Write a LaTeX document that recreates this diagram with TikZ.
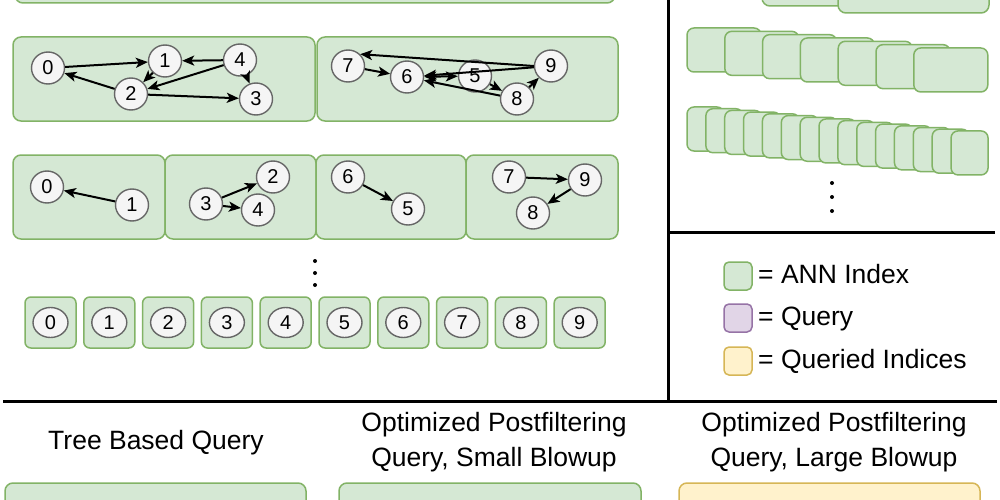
\documentclass[tikz,border=0pt]{standalone}
\usepackage{fontspec}
\setmainfont{Liberation Sans}
\usetikzlibrary{arrows.meta,shapes.geometric}
\definecolor{gfill}{HTML}{D5E8D4}
\definecolor{gline}{HTML}{82B366}
\definecolor{pfill}{HTML}{E1D5E7}
\definecolor{pline}{HTML}{9673A6}
\definecolor{yfill}{HTML}{FFF2CC}
\definecolor{yline}{HTML}{D6B656}
\definecolor{cfill}{HTML}{F5F5F5}
\definecolor{cline}{HTML}{666666}
\begin{document}
\begin{tikzpicture}[x=1pt,y=-1pt,
  gbox/.style={draw=gline, fill=gfill, line width=1.5pt, rounded corners=8pt, anchor=north west, inner sep=0pt, outer sep=0pt},
  pbox/.style={gbox, draw=pline, fill=pfill},
  ybox/.style={gbox, draw=yline, fill=yfill},
  vnode/.style={ellipse, draw=cline, fill=cfill, line width=1.4pt, minimum width=33pt, minimum height=32pt, inner sep=0pt, font=\fontsize{20}{20}\selectfont},
  snode/.style={vnode, minimum width=35pt, minimum height=30pt},
  edge/.style={line width=2pt, -{Stealth[length=12pt,width=10pt,inset=3pt]}},
  bedge/.style={line width=2pt, {Stealth[length=12pt,width=10pt,inset=3pt]}-{Stealth[length=12pt,width=10pt,inset=3pt]}},
  sepline/.style={line width=3pt, black},
  lbl/.style={font=\fontsize{26.5}{35}\selectfont, align=center, inner sep=0pt},
  dotm/.style={circle, fill=black, inner sep=0pt, minimum size=4pt}
]
\useasboundingbox (0,0) rectangle (1000,500);
\clip (0,0) rectangle (1000,500);
\fill[white] (0,0) rectangle (1000,500);

% ---- top strip (cut off) ----
\node[gbox, minimum width=600, minimum height=70] (topstrip) at (15,-67) {};

% ---- row 1 ----
\node[gbox, minimum width=302, minimum height=84] (boxA) at (13,37) {};
\node[gbox, minimum width=301, minimum height=84] (boxB) at (317,37) {};
\node[vnode] (a0) at (48,68) {0};
\node[vnode] (a1) at (165,61) {1};
\node[vnode] (a2) at (131,94) {2};
\node[vnode] (a4) at (240,60) {4};
\node[vnode] (a3) at (256,99) {3};
\node[vnode] (b7) at (348,66) {7};
\node[vnode] (b6) at (407,77) {6};
\node[vnode] (b5) at (475,76) {5};
\node[vnode] (b9) at (551,66) {9};
\node[vnode] (b8) at (517,99) {8};
\draw[edge] (a0) -- (a1);
\draw[edge] (a2) -- (a0);
\draw[edge] (a1) -- (a2);
\draw[edge] (a4) -- (a1);
\draw[edge] (a4) -- (a3);
\draw[edge] (a4) -- (a2);
\draw[edge] (a2) -- (a3);
\draw[edge] (b9.west) -- (b7.north east);
\draw[edge] (b7) -- (b6);
\draw[edge] (b9) -- (b6);
\draw[bedge] (b6) -- (b5);
\draw[edge] (b5) -- (b8);
\draw[edge] (b8) -- (b6);
\draw[edge] (b8) -- (b9);

% ---- row 2 ----
\node[gbox, minimum width=152, minimum height=84] (c1) at (13,155) {};
\node[gbox, minimum width=151, minimum height=84] (c2) at (165,155) {};
\node[gbox, minimum width=150, minimum height=84] (c3) at (316,155) {};
\node[gbox, minimum width=152, minimum height=84] (c4) at (466,155) {};
\node[vnode] (d0) at (47,187) {0};
\node[vnode] (d1) at (132,205) {1};
\node[vnode] (d3) at (206,204) {3};
\node[vnode] (d2) at (273,177) {2};
\node[vnode] (d4) at (258,210) {4};
\node[vnode] (d6) at (348,177) {6};
\node[vnode] (d5) at (408,209) {5};
\node[vnode] (d7) at (509,177) {7};
\node[vnode] (d9) at (585,180) {9};
\node[vnode] (d8) at (533,213) {8};
\draw[edge] (d1) -- (d0);
\draw[edge] (d3) -- (d2);
\draw[edge] (d3) -- (d4);
\draw[edge] (d6) -- (d5);
\draw[edge] (d7) -- (d9);
\draw[edge] (d9) -- (d8);

% ---- dots ----
\node[dotm] (ldot1) at (315,261) {};
\node[dotm] (ldot2) at (315,273) {};
\node[dotm] (ldot3) at (315,285) {};

% ---- row 3 ----
\foreach \i in {0,...,9} {
  \node[gbox, rounded corners=6pt, minimum width=51, minimum height=51] (e\i) at ({25+58.8*\i},297) {};
  \node[snode] (f\i) at (e\i.center) {\i};
}

% ---- separators ----
\draw[sepline] (668,0) -- (668,401);
\draw[sepline] (668,232) -- (995,232);
\draw[sepline] (3,401) -- (997,401);

% ---- right panel ----
\node[gbox, minimum width=150, minimum height=50] (tr1) at (762,-44) {};
\node[gbox, minimum width=151, minimum height=50] (tr2) at (838,-37) {};
\foreach \i in {0,...,6} {
  \node[gbox, rounded corners=7pt, minimum width=74, minimum height=44] (m\i) at ({687+37.8*\i},{28+3.33*\i}) {};
}
\foreach \i in {0,...,14} {
  \node[gbox, rounded corners=7pt, minimum width=37, minimum height=44] (n\i) at ({687+18.86*\i},{107+1.71*\i}) {};
}
\node[dotm] (rdot1) at (832,183) {};
\node[dotm] (rdot2) at (832,197) {};
\node[dotm] (rdot3) at (832,211) {};

% ---- legend ----
\node[gbox, rounded corners=5pt, minimum width=28, minimum height=28] (lg) at (724,262) {};
\node[pbox, rounded corners=5pt, minimum width=28, minimum height=28] (lp) at (724,304) {};
\node[ybox, rounded corners=5pt, minimum width=28, minimum height=28] (ly) at (724,347) {};
\node[lbl, anchor=base west] (tg) at (758,283) {= ANN Index};
\node[lbl, anchor=base west] (tp) at (758,325) {= Query};
\node[lbl, anchor=base west] (ty) at (758,368) {= Queried Indices};

% ---- bottom ----
\node[lbl, anchor=base] (q1) at (156,449) {Tree Based Query};
\node[lbl] (q2) at (494,442) {Optimized Postfiltering\\Query, Small Blowup};
\node[lbl] (q3) at (834,442) {Optimized Postfiltering\\Query, Large Blowup};
\node[gbox, minimum width=301, minimum height=60] (bb1) at (5,483) {};
\node[gbox, minimum width=302, minimum height=60] (bb2) at (339,483) {};
\node[ybox, minimum width=301, minimum height=60] (bb3) at (679,483) {};
\end{tikzpicture}
\end{document}
